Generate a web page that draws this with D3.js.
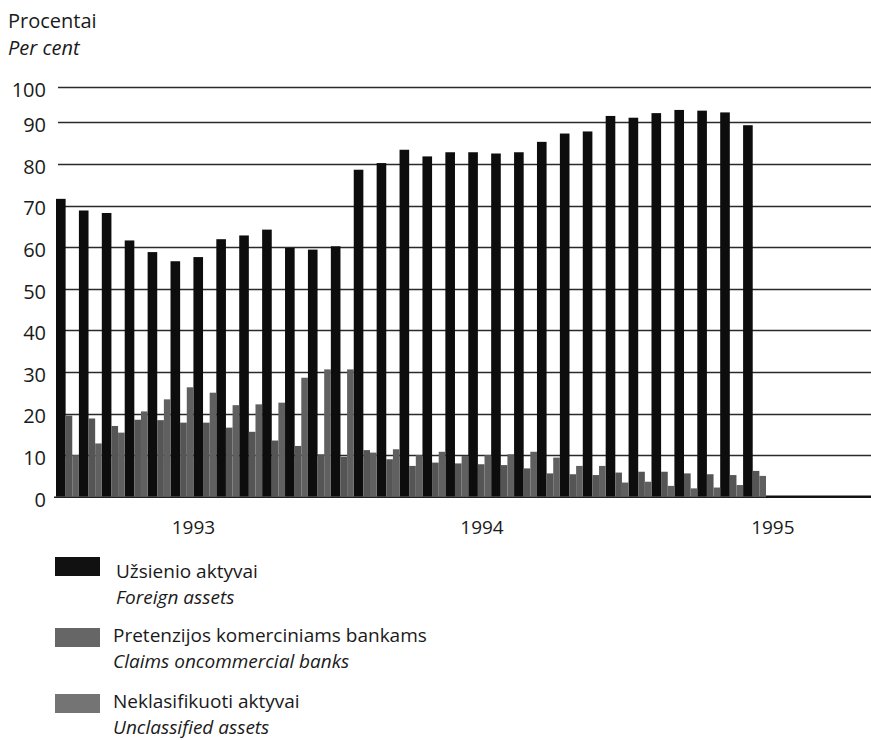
<!DOCTYPE html>
<html>
<head>
<meta charset="utf-8">
<script src="https://cdn.jsdelivr.net/npm/d3@7"></script>
<style>
  html, body { margin: 0; padding: 0; background: #fff; }
  svg { display: block; }
  text { font-family: "Open Sans", "DejaVu Sans", sans-serif; fill: #1a1a1a; }
</style>
</head>
<body>
<svg id="chart" width="871" height="740"></svg>
<script>
// ---- data ----
const months = [
  "1993-01","1993-02","1993-03","1993-04","1993-05","1993-06","1993-07","1993-08","1993-09","1993-10","1993-11","1993-12",
  "1994-01","1994-02","1994-03","1994-04","1994-05","1994-06","1994-07","1994-08","1994-09","1994-10","1994-11","1994-12",
  "1995-01","1995-02","1995-03","1995-04","1995-05","1995-06","1995-07"
];
const foreignAssets = [71.6, 68.8, 68.2, 61.6, 58.8, 56.6, 57.6, 61.9, 62.8, 64.2, 59.8, 59.4, 60.2,
  78.6, 80.2, 83.4, 81.8, 82.8, 82.8, 82.5, 82.8, 85.3, 87.3, 87.8,
  91.8, 91.3, 92.6, 93.5, 93.3, 92.8, 89.3];
const claimsOnBanks = [19.5, 18.8, 17.0, 18.5, 18.4, 17.8, 17.8, 16.6, 15.6, 13.5, 12.2, 10.2, 9.6,
  11.2, 9.0, 7.4, 8.2, 8.0, 7.8, 7.6, 6.8, 5.6, 5.4, 5.2,
  5.8, 6.0, 6.0, 5.6, 5.4, 5.2, 6.2];
const unclassifiedAssets = [10.0, 12.8, 15.4, 20.5, 23.4, 26.3, 25.0, 22.0, 22.2, 22.6, 28.6, 30.6, 30.6,
  10.6, 11.4, 10.0, 10.8, 9.8, 10.0, 10.2, 10.8, 9.4, 7.4, 7.4,
  3.4, 3.6, 2.6, 2.0, 2.2, 2.8, 5.0];
const yTicks = [0, 10, 20, 30, 40, 50, 60, 70, 80, 90, 100];
const yearLabels = ["1993", "1994", "1995"];
const yearLabelMonth = [6.0, 18.6, 31.3];   // month-index position of each year label
const legendLt = ["Užsienio aktyvai", "Pretenzijos komerciniams bankams", "Neklasifikuoti aktyvai"];
const legendEn = ["Foreign assets", "Claims oncommercial banks", "Unclassified assets"];

// ---- layout / style ----
const svg = d3.select("#chart");
const W = 871;
const plotLeft = 56, plotRight = 766;
const colors = ["#0d0d0d", "#555555", "#606060"];
const swatchColors = ["#111111", "#666666", "#747474"];
// fraction of a month's band occupied by each series, in drawing order
const subFrac = [0.42, 0.29, 0.29];

const series = [foreignAssets, claimsOnBanks, unclassifiedAssets];

const x = d3.scaleBand().domain(months).range([plotLeft, plotRight]).paddingInner(0).paddingOuter(0);
const xLin = d3.scaleLinear().domain([0, months.length]).range([plotLeft, plotRight]);
const y = d3.scaleLinear().domain([0, 90, 100]).range([496.7, 122.3, 87]);

// y-axis title
svg.append("text").attr("x", 8).attr("y", 28).style("font-size", "20px").text("Procentai");
svg.append("text").attr("x", 8).attr("y", 55).style("font-size", "20px").style("font-style", "italic").text("Per cent");

// gridlines
const grid = svg.append("g");
grid.selectAll("line").data(yTicks.filter(d => d > 0)).join("line")
  .attr("x1", 58).attr("x2", W)
  .attr("y1", d => Math.round(y(d)) + 0.5).attr("y2", d => Math.round(y(d)) + 0.5)
  .attr("stroke", "#2a2a2a").attr("stroke-width", 1.3);

// y axis labels
const yAxis = d3.axisLeft(y).tickValues(yTicks).tickSize(0).tickPadding(0);
const yg = svg.append("g").attr("transform", "translate(46,3)").call(yAxis);
yg.select(".domain").remove();
yg.selectAll("text").style("font-size", "20px").style("font-family", "\"Open Sans\", sans-serif").attr("fill", "#1a1a1a");

// bars
const offsets = subFrac.map((f, i) => d3.sum(subFrac.slice(0, i)));
series.forEach((vals, si) => {
  svg.append("g").selectAll("rect").data(vals).join("rect")
    .attr("x", (d, i) => x(months[i]) + offsets[si] * x.bandwidth())
    .attr("width", subFrac[si] * x.bandwidth())
    .attr("y", d => y(d))
    .attr("height", d => y(0) - y(d))
    .attr("fill", colors[si]);
});

// baseline
svg.append("line").attr("x1", 54).attr("x2", W)
  .attr("y1", y(0) + 0.5).attr("y2", y(0) + 0.5)
  .attr("stroke", "#222").attr("stroke-width", 1.6);
svg.append("line").attr("x1", plotRight).attr("x2", W)
  .attr("y1", y(0)).attr("y2", y(0))
  .attr("stroke", "#111").attr("stroke-width", 2.2);

// year labels
svg.append("g").selectAll("text").data(yearLabels).join("text")
  .attr("x", (d, i) => xLin(yearLabelMonth[i]))
  .attr("y", 534)
  .attr("text-anchor", "middle")
  .style("font-size", "19px")
  .text(d => d);

// legend
const legTop = [557, 628, 694];
const leg = svg.append("g");
legendLt.forEach((t, i) => {
  leg.append("rect").attr("x", 55).attr("y", legTop[i]).attr("width", 45).attr("height", 19)
    .attr("fill", swatchColors[i]);
  leg.append("text").attr("x", i === 0 ? 116 : 113).attr("y", legTop[i] + (i === 0 ? 21 : 14))
    .style("font-size", "19px").text(t);
  leg.append("text").attr("x", i === 0 ? 116 : 113).attr("y", legTop[i] + (i === 0 ? 47 : 40))
    .style("font-size", "19px").style("font-style", "italic").text(legendEn[i]);
});
</script>
</body>
</html>
